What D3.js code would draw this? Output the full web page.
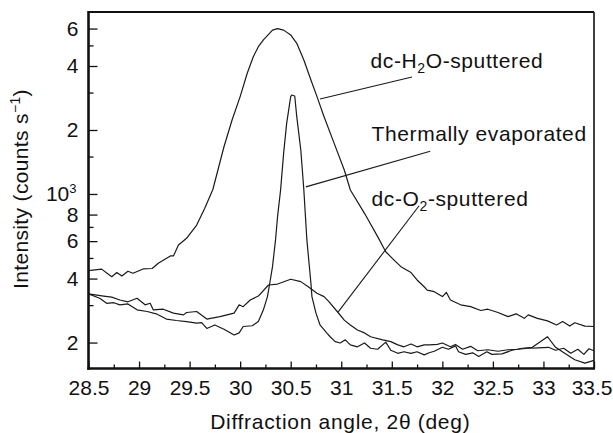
<!DOCTYPE html>
<html>
<head>
<meta charset="utf-8">
<script src="https://cdn.jsdelivr.net/npm/d3@7"></script>
<style>
  body { margin: 0; background: #fff; }
  svg { display: block; }
  text { font-family: "Liberation Sans", Arial, Helvetica, sans-serif; fill: #111; }
  .curve { fill: none; stroke: #1a1a1a; stroke-width: 1.2; stroke-linejoin: round; }
  .leader { stroke: #1a1a1a; stroke-width: 1.1; }
</style>
</head>
<body>
<svg id="chart" width="613" height="433"></svg>
<script>
// --- data (angle in deg 2-theta, intensity in counts/s) ---

const h2oAngle = [28.50, 28.63, 28.73, 28.78, 28.83, 28.89, 28.94, 29.04, 29.13, 29.19, 29.31, 29.34, 29.39, 29.47,
  29.57, 29.65, 29.73, 29.84, 29.92, 30.00, 30.07, 30.13, 30.18, 30.23, 30.32, 30.37, 30.43, 30.50, 30.56, 30.63,
  30.70, 30.76, 30.83, 30.93, 31.03, 31.09, 31.23, 31.36, 31.44, 31.52, 31.59, 31.69, 31.75, 31.82, 31.85, 31.92,
  32.00, 32.04, 32.08, 32.18, 32.28, 32.38, 32.45, 32.55, 32.65, 32.73, 32.81, 32.85, 32.94, 33.04, 33.13, 33.19,
  33.26, 33.31, 33.41, 33.50];
const h2oCounts = [436, 443, 408, 427, 411, 433, 424, 444, 446, 472, 511, 511, 575, 619,
  714, 857, 1050, 1668, 2228, 2872, 3700, 4425, 4930, 5310, 5900, 6000, 5900, 5600, 5115, 4270,
  3435, 2870, 2310, 1730, 1297, 1044, 811, 630, 535, 490, 455, 427, 394, 366, 353, 347,
  329, 344, 317, 301, 295, 283, 287, 277, 265, 273, 260, 270, 260, 253, 242, 251,
  239, 248, 239, 238];

const thermAngle = [28.50, 28.61, 28.68, 28.75, 28.81, 28.89, 28.98, 29.08, 29.17, 29.27, 29.37, 29.47, 29.57, 29.62,
  29.67, 29.75, 29.84, 29.94, 29.99, 30.03, 30.12, 30.18, 30.23, 30.27, 30.29, 30.32, 30.35, 30.37, 30.40, 30.43,
  30.46, 30.50, 30.51, 30.54, 30.56, 30.60, 30.63, 30.66, 30.70, 30.71, 30.75, 30.79, 30.86, 30.89, 30.94, 30.99,
  31.04, 31.09, 31.16, 31.23, 31.29, 31.36, 31.44, 31.49, 31.56, 31.62, 31.69, 31.75, 31.82, 31.87, 31.92, 32.00,
  32.06, 32.13, 32.16, 32.23, 32.30, 32.36, 32.44, 32.49, 32.59, 32.69, 32.79, 32.89, 33.04, 33.12, 33.21, 33.31,
  33.41, 33.50];
const thermCounts = [339, 323, 306, 308, 301, 304, 285, 280, 273, 258, 254, 251, 247, 248,
  233, 242, 231, 217, 222, 238, 240, 251, 285, 329, 373, 455, 608, 782, 1044, 1553,
  2150, 2870, 2922, 2890, 2310, 1611, 1044, 608, 380, 329, 275, 242, 221, 213, 202, 199,
  206, 195, 191, 199, 188, 186, 201, 184, 178, 181, 178, 181, 175, 179, 182, 190,
  186, 193, 181, 176, 179, 172, 181, 176, 177, 184, 188, 190, 213, 190, 178, 166,
  160, 165];

const o2Angle = [28.50, 28.65, 28.73, 28.81, 28.89, 28.98, 29.06, 29.11, 29.14, 29.24, 29.34, 29.44, 29.47, 29.57,
  29.67, 29.80, 29.94, 29.99, 30.03, 30.10, 30.18, 30.28, 30.37, 30.50, 30.60, 30.68, 30.76, 30.83, 30.88, 30.96,
  31.03, 31.09, 31.16, 31.23, 31.29, 31.41, 31.49, 31.56, 31.62, 31.69, 31.75, 31.82, 31.87, 31.95, 32.00, 32.08,
  32.13, 32.20, 32.28, 32.35, 32.45, 32.55, 32.65, 32.75, 32.85, 32.95, 33.05, 33.12, 33.20, 33.27, 33.34, 33.40,
  33.45, 33.50];
const o2Counts = [339, 331, 327, 317, 311, 323, 301, 306, 285, 287, 275, 270, 277, 280,
  258, 265, 275, 301, 295, 317, 331, 373, 377, 397, 387, 364, 341, 329, 311, 280,
  255, 242, 229, 222, 213, 206, 202, 195, 191, 197, 191, 195, 195, 196, 199, 191,
  196, 186, 192, 183, 185, 182, 185, 186, 188, 189, 190, 184, 188, 178, 186, 176,
  187, 183];

// axis ticks
const xMajor = [28.5, 29, 29.5, 30, 30.5, 31, 31.5, 32, 32.5, 33, 33.5];
const xMinor = [28.75, 29.25, 29.75, 30.25, 30.75, 31.25, 31.75, 32.25, 32.75, 33.25];
const yMajor = [200, 400, 600, 800, 1000, 2000, 4000, 6000];
const yMajorLabels = ["2", "4", "6", "8", "10", "2", "4", "6"];
const yMinor = [300, 500, 700, 1500, 3000, 5000];

// curve labels: [text before sub, subscript, text after], anchor point, leader from -> to
const labelNames = [["dc-H", "2", "O-sputtered"], ["Thermally evaporated", "", ""], ["dc-O", "2", "-sputtered"]];
const labelAt = [[31.29, 3920], [31.30, 1775], [31.30, 880]];
const leaderFrom = [[30.79, 2800], [30.65, 1080], [30.97, 279]];
const leaderTo = [[31.70, 3550], [31.88, 1590], [31.77, 880]];

// --- drawing ---

const svg = d3.select("#chart");
svg.append("rect").attr("width", 613).attr("height", 433).attr("fill", "#fff");

const plotL = 88.5, plotR = 594, plotT = 12, plotB = 368.5;
const x = d3.scaleLinear().domain([28.5, 33.5]).range([plotL, plotR]);
const y = d3.scaleLog().domain([151, 7180]).range([plotB, plotT]);

const line = d3.line().x(d => x(d[0])).y(d => y(d[1]));

const series = [
  d3.zip(h2oAngle, h2oCounts),
  d3.zip(thermAngle, thermCounts),
  d3.zip(o2Angle, o2Counts)
];

svg.selectAll(".curve")
  .data(series)
  .enter().append("path")
  .attr("class", "curve")
  .attr("d", line);

// frame: heavy left/bottom, lighter top/right
svg.append("line").attr("x1", plotL).attr("x2", plotR).attr("y1", plotT).attr("y2", plotT)
  .attr("stroke", "#111").attr("stroke-width", 2);
svg.append("line").attr("x1", plotR).attr("x2", plotR).attr("y1", plotT).attr("y2", plotB)
  .attr("stroke", "#111").attr("stroke-width", 1.6);

// y axis (ticks point inward)
const yAxis = svg.append("g").attr("transform", `translate(${plotL},0)`)
  .call(d3.axisLeft(y).tickValues(yMajor).tickSize(-9).tickPadding(10)
    .tickFormat((d, i) => yMajorLabels[i]));
yAxis.select(".domain").remove();
yAxis.selectAll("line").attr("stroke", "#111").attr("stroke-width", 1.3);
yAxis.selectAll("text").attr("font-size", 21).attr("fill", "#111")
  .attr("font-family", '"Liberation Sans", Arial, sans-serif');
yAxis.selectAll(".tick text").filter(d => d === 1000)
  .append("tspan").attr("dy", "-0.6em").attr("font-size", 13).text("3");
yAxis.selectAll(".tick text").filter(d => d === 1000).attr("dx", "-2");

const yMinorAxis = svg.append("g").attr("transform", `translate(${plotL},0)`)
  .call(d3.axisLeft(y).tickValues(yMinor).tickSize(-5).tickFormat(""));
yMinorAxis.select(".domain").remove();
yMinorAxis.selectAll("line").attr("stroke", "#111").attr("stroke-width", 1.3);

// x axis (ticks point inward)
const xAxis = svg.append("g").attr("transform", `translate(0,${plotB})`)
  .call(d3.axisBottom(x).tickValues(xMajor).tickSize(-7).tickPadding(12)
    .tickFormat(d3.format("")));
xAxis.select(".domain").remove();
xAxis.selectAll("line").attr("stroke", "#111").attr("stroke-width", 1.3);
xAxis.selectAll("text").attr("font-size", 21).attr("fill", "#111")
  .attr("font-family", '"Liberation Sans", Arial, sans-serif');
// last label sits against the page edge
xAxis.selectAll(".tick text").filter(d => d === 33.5)
  .attr("text-anchor", "end").attr("dx", 18);

const xMinorAxis = svg.append("g").attr("transform", `translate(0,${plotB})`)
  .call(d3.axisBottom(x).tickValues(xMinor).tickSize(-4).tickFormat(""));
xMinorAxis.select(".domain").remove();
xMinorAxis.selectAll("line").attr("stroke", "#111").attr("stroke-width", 1.3);

// heavy left and bottom axis lines
svg.append("line").attr("x1", plotL).attr("x2", plotL).attr("y1", plotT - 1).attr("y2", plotB + 1.2)
  .attr("stroke", "#111").attr("stroke-width", 2.6);
svg.append("line").attr("x1", plotL - 1.2).attr("x2", plotR + 1).attr("y1", plotB).attr("y2", plotB)
  .attr("stroke", "#111").attr("stroke-width", 2.6);

// leader lines and labels
svg.selectAll(".leader")
  .data(leaderFrom)
  .enter().append("line")
  .attr("class", "leader")
  .attr("x1", d => x(d[0])).attr("y1", d => y(d[1]))
  .attr("x2", (d, i) => x(leaderTo[i][0])).attr("y2", (d, i) => y(leaderTo[i][1]));

labelNames.forEach((parts, i) => {
  const t = svg.append("text")
    .attr("x", x(labelAt[i][0])).attr("y", y(labelAt[i][1]))
    .attr("font-size", 21).attr("letter-spacing", 0.6);
  t.append("tspan").text(parts[0]);
  if (parts[1]) {
    t.append("tspan").attr("dy", 5).attr("font-size", 14).text(parts[1]);
    t.append("tspan").attr("dy", -5).text(parts[2]);
  }
});

// axis titles
svg.append("text")
  .attr("x", (plotL + plotR) / 2 - 1).attr("y", 429)
  .attr("text-anchor", "middle").attr("font-size", 21).attr("letter-spacing", 0.7)
  .text("Diffraction angle, 2\u03b8 (deg)");

const yTitle = svg.append("text")
  .attr("transform", "translate(28,189) rotate(-90)")
  .attr("text-anchor", "middle").attr("font-size", 21).attr("letter-spacing", 0.35);
yTitle.append("tspan").text("Intensity (counts s");
yTitle.append("tspan").attr("dy", -8).attr("font-size", 14).text("\u22121");
yTitle.append("tspan").attr("dy", 8).text(")");
</script>
</body>
</html>
